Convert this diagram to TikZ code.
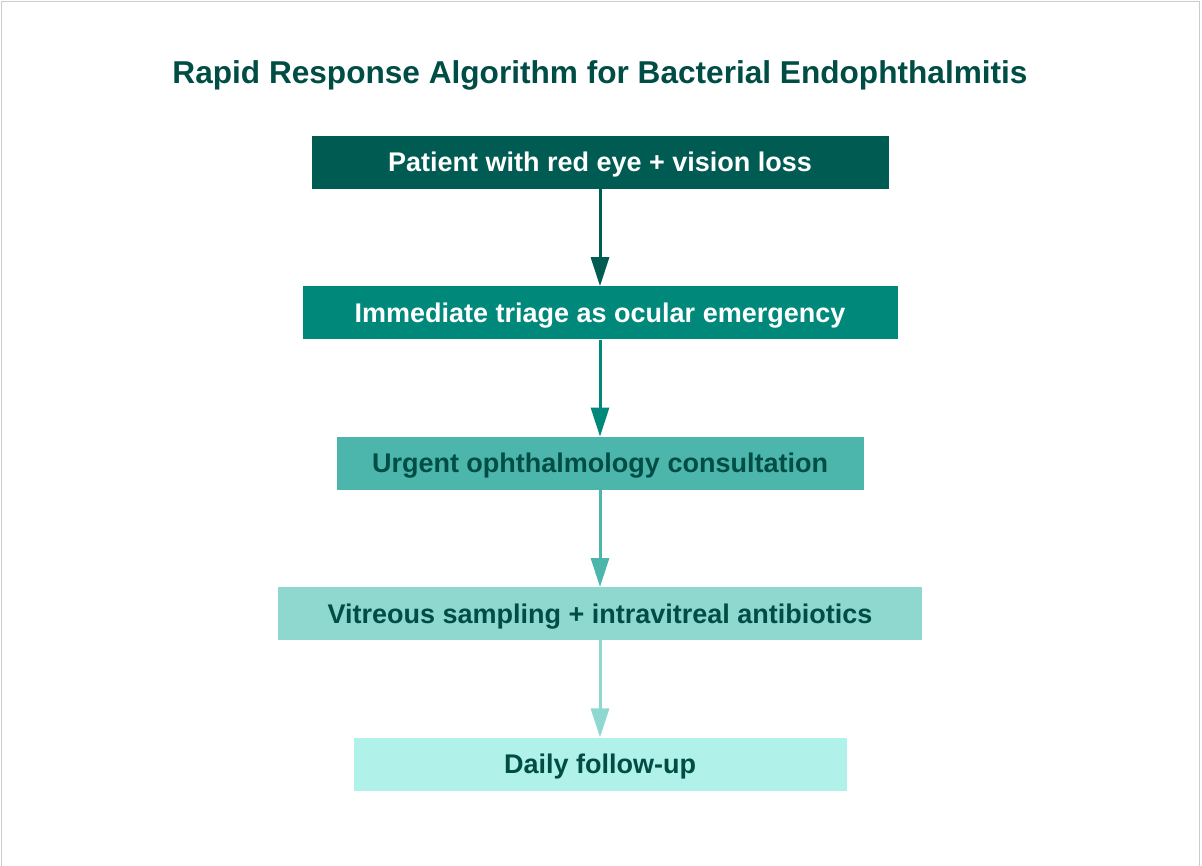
\documentclass[tikz,border=0pt]{standalone}
\usepackage{fontspec}
\setmainfont{Liberation Sans}
\usepackage{xcolor}
\usetikzlibrary{arrows.meta,positioning}
\definecolor{tealdark}{HTML}{005C53}
\definecolor{tealmid}{HTML}{00897B}
\definecolor{teallight}{HTML}{4DB6AC}
\definecolor{tealpale}{HTML}{8ED8D0}
\definecolor{tealmint}{HTML}{B0F2EA}
\definecolor{titleteal}{HTML}{004D45}
\definecolor{framegray}{HTML}{CCCCCC}

\begin{document}
\begin{tikzpicture}[x=1pt,y=-1pt,node distance=97pt,
  every node/.style={font=\bfseries\fontsize{27}{31}\selectfont},
  stepbox/.style={minimum height=53pt,inner sep=0pt,text height=19pt,text depth=0pt},
  flow/.style={line width=3pt,-{Triangle[width=18pt,length=29pt]}}]
  \useasboundingbox (0,0) rectangle (1202,866);
  \draw[framegray] (1,1) rectangle (1199,866);
  \node[titleteal,font=\bfseries\fontsize{31.6}{36}\selectfont] (title) at (600,75) {Rapid Response Algorithm for Bacterial Endophthalmitis};
  \node[stepbox,fill=tealdark,text=white,minimum width=577pt] (patient) at (600,162.5) {Patient with red eye + vision loss};
  \node[stepbox,fill=tealmid,text=white,minimum width=595pt,below=of patient] (triage) {Immediate triage as ocular emergency};
  \node[stepbox,fill=teallight,text=titleteal,minimum width=527pt,below=of triage] (consult) {Urgent ophthalmology consultation};
  \node[stepbox,fill=tealpale,text=titleteal,minimum width=644pt,below=of consult] (sampling) {Vitreous sampling + intravitreal antibiotics};
  \node[stepbox,fill=tealmint,text=titleteal,minimum width=493pt,below=of sampling] (followup) {Daily follow-up};
  \draw[flow,tealdark] (patient) -- (triage);
  \draw[flow,tealmid] (triage) -- (consult);
  \draw[flow,teallight] (consult) -- (sampling);
  \draw[flow,tealpale] (sampling) -- (followup);
\end{tikzpicture}
\end{document}
